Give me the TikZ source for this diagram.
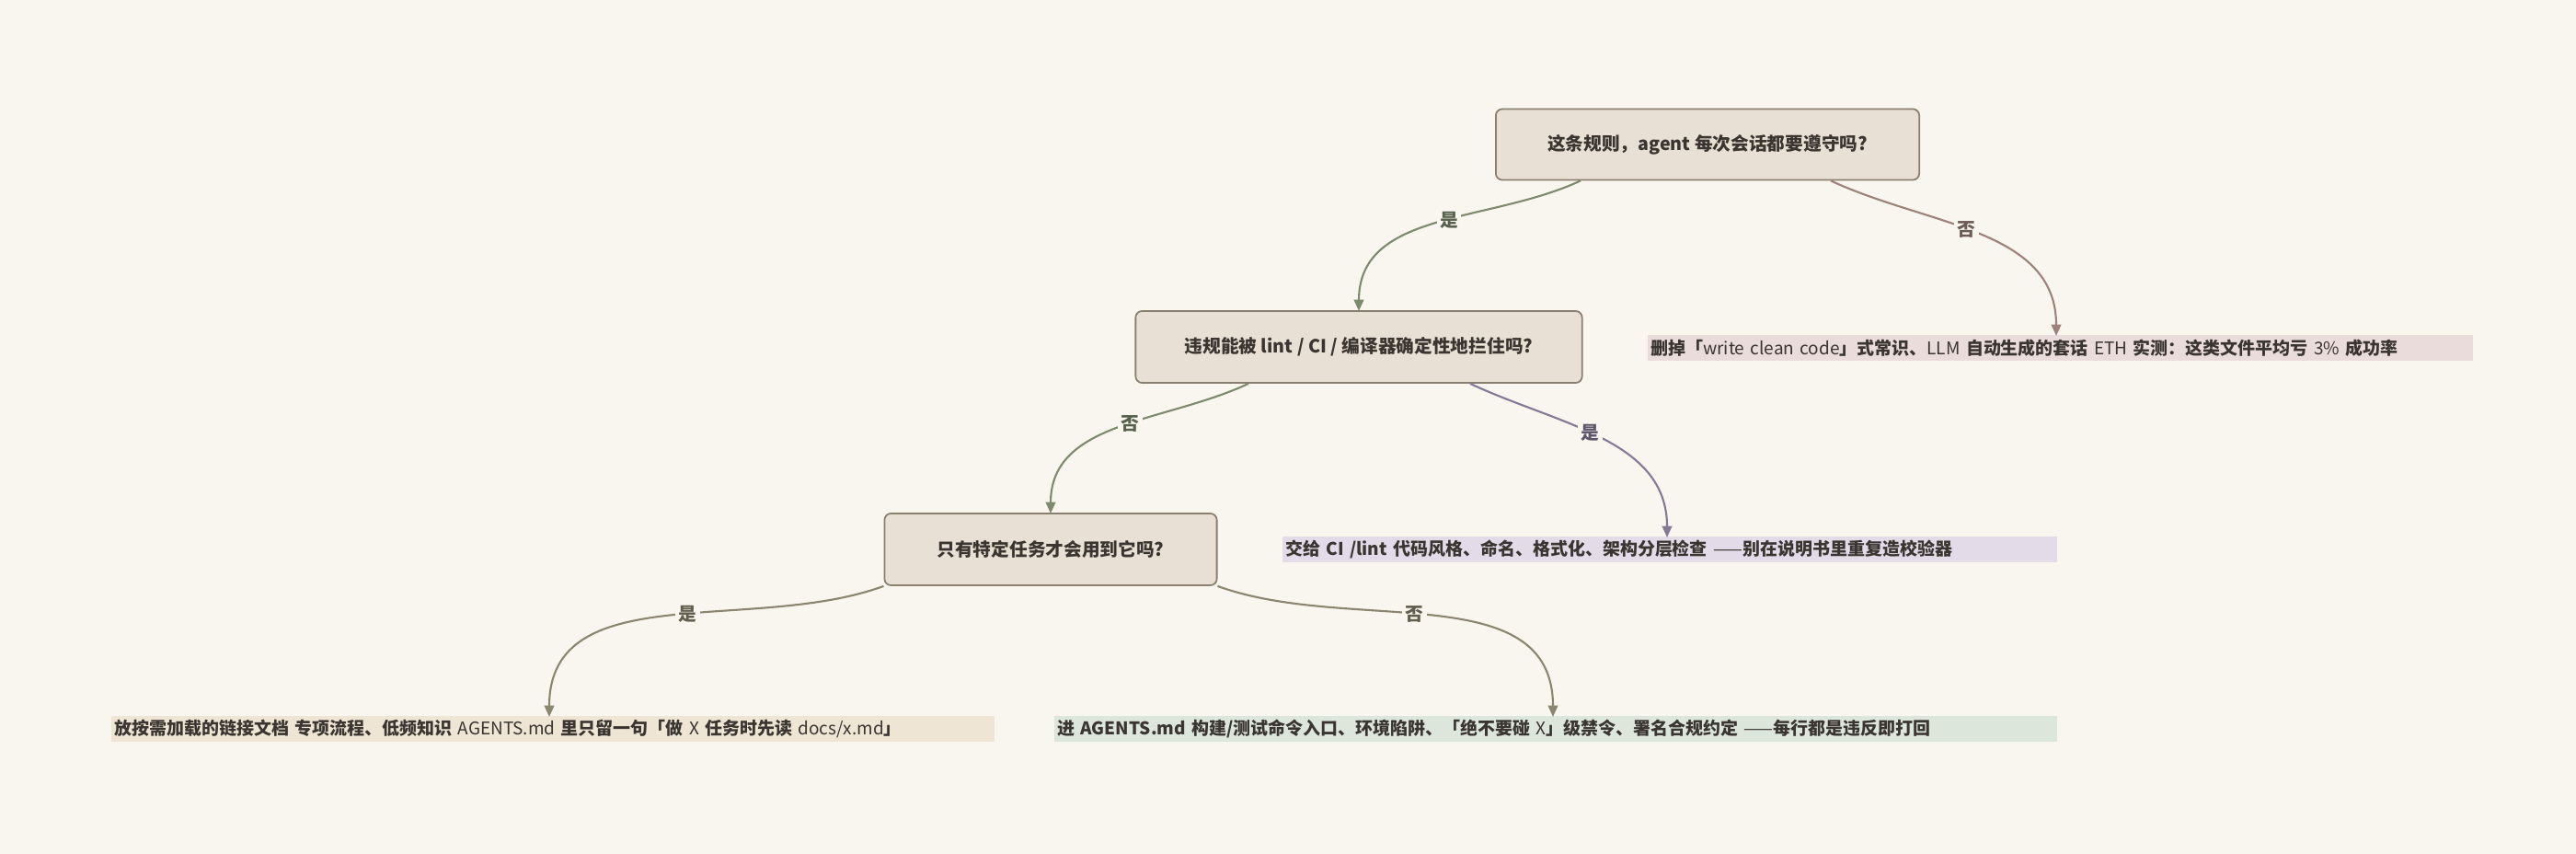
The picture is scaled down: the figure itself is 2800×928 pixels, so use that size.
\documentclass[tikz,border=0pt]{standalone}
\usepackage{fontspec}
\setmainfont{Noto Sans CJK SC}
\newfontfamily\rg{Noto Sans CJK SC}
\usetikzlibrary{calc,arrows.meta}
\definecolor{bg}{HTML}{F9F5EF}
\definecolor{boxf}{HTML}{E8E0D5}
\definecolor{boxd}{HTML}{8A8070}
\definecolor{eg}{HTML}{7D8A6E}
\definecolor{eb}{HTML}{9C827A}
\definecolor{ep}{HTML}{857A96}
\definecolor{eo}{HTML}{8A8670}
\definecolor{lpk}{HTML}{EADCDA}
\definecolor{lpu}{HTML}{E3DBE8}
\definecolor{lbe}{HTML}{EEE5D5}
\definecolor{lgr}{HTML}{DCE6DA}
\definecolor{txt}{HTML}{3A3530}
\begin{document}
\begin{tikzpicture}[x=0.01cm,y=-0.01cm,
  q/.style={draw=boxd,line width=0.5pt,fill=boxf,rounded corners=2pt,font=\fontsize{5.6}{6}\selectfont\bfseries,text=txt,inner sep=0pt},
  leaf/.style={anchor=west,inner xsep=1pt,inner ysep=0pt,minimum height=0.27cm,font=\fontsize{5.4}{6}\selectfont\bfseries,text=txt,align=left},
  e/.style={line width=0.6pt,-{Triangle[length=3.5pt,width=3pt]}},
  lab/.style={fill=bg,inner sep=1pt,font=\fontsize{5.6}{6}\selectfont\bfseries}]
\fill[bg] (0,0) rectangle (2800,928);
\useasboundingbox (0,0) rectangle (2800,928);
\node[q,minimum width=4.6cm,minimum height=0.77cm] (n1) at (1856,157) {这条规则，agent 每次会话都要遵守吗?};
\node[q,minimum width=4.85cm,minimum height=0.78cm] (n2) at (1477,377) {违规能被 lint / CI / 编译器确定性地拦住吗?};
\node[q,minimum width=3.61cm,minimum height=0.78cm] (n3) at (1142,597) {只有特定任务才会用到它吗?};
\node[leaf,fill=lpk,text width=8.9cm] (l1) at (1790,378) {删掉「{\rg\mdseries write clean code}」式常识、{\rg\mdseries LLM} 自动生成的套话 {\rg\mdseries ETH} 实测：这类文件平均亏 {\rg\mdseries 3\%} 成功率};
\node[leaf,fill=lpu,text width=8.35cm] (l2) at (1393,597) {交给 CI /lint 代码风格、命名、格式化、架构分层检查 {\rg\mdseries ——}别在说明书里重复造校验器};
\node[leaf,fill=lbe,text width=9.53cm] (l3) at (120,792) {放按需加载的链接文档 专项流程、低频知识 {\rg\mdseries AGENTS.md} 里只留一句「做 {\rg\mdseries X} 任务时先读 {\rg\mdseries docs/x.md}」};
\node[leaf,fill=lgr,text width=10.83cm] (l4) at (1145,792) {进 AGENTS.md 构建/测试命令入口、环境陷阱、「绝不要碰 {\rg\mdseries X}」级禁令、署名合规约定 {\rg\mdseries ——}每行都是违反即打回};
\coordinate (t1) at (1477,338);
\coordinate (t2) at (2235,365);
\coordinate (t3) at (1142,558);
\coordinate (t4) at (1812,584);
\coordinate (t5) at (597,779);
\coordinate (t6) at (1688,779);
\draw[e,eg] ($(n1.south)+(-138,0)$) to[out=-155,in=90] node[lab,text=eg!70!black,pos=0.45]{是} (t1);
\draw[e,eb] ($(n1.south)+(134,0)$) to[out=-25,in=90] node[lab,text=eb!70!black,pos=0.45]{否} (t2);
\draw[e,eg] ($(n2.south)+(-120,0)$) to[out=-155,in=90] node[lab,text=eg!70!black,pos=0.45]{否} (t3);
\draw[e,ep] ($(n2.south)+(121,0)$) to[out=-25,in=90] node[lab,text=ep!70!black,pos=0.45]{是} (t4);
\draw[e,eo] (n3.south west) to[out=-160,in=90] node[lab,text=eo!70!black,pos=0.45]{是} (t5);
\draw[e,eo] (n3.south east) to[out=-20,in=90] node[lab,text=eo!70!black,pos=0.45]{否} (t6);
\end{tikzpicture}
\end{document}
